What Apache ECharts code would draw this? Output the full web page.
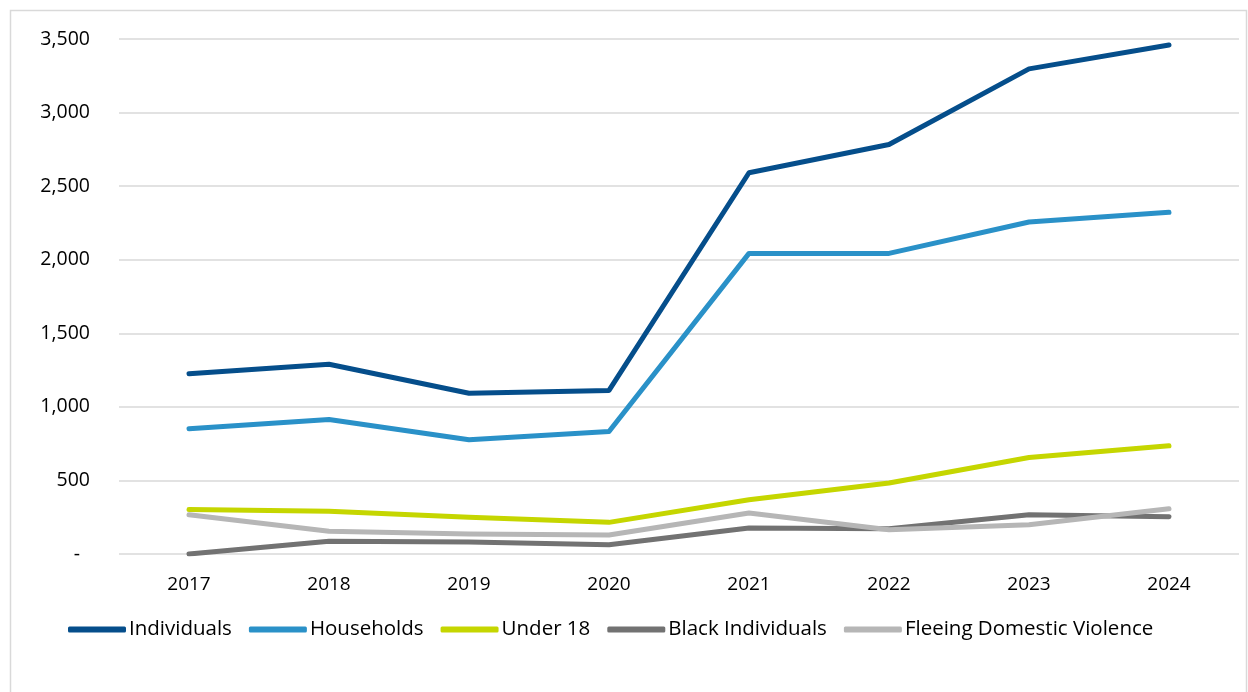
<!DOCTYPE html>
<html>
<head>
<meta charset="utf-8">
<script src="https://cdn.jsdelivr.net/npm/echarts@6/dist/echarts.min.js"></script>
<style>
  html, body { margin: 0; padding: 0; background: #fff; }
  #chart { width: 1248px; height: 692px; }
</style>
</head>
<body>
<div id="chart"></div>
<script>
// Years on the category axis
const years = ['2017', '2018', '2019', '2020', '2021', '2022', '2023', '2024'];

// Counts per year for each group
const individuals = [1225, 1290, 1092, 1112, 2591, 2783, 3297, 3459];
const households = [851, 914, 776, 833, 2043, 2043, 2256, 2322];
const under18 = [303, 290, 249, 215, 369, 482, 656, 735];
const blackIndividuals = [0, 86, 81, 63, 176, 172, 267, 253];
const fleeingDV = [267, 154, 136, 129, 278, 165, 199, 308];

// Value axis ticks
const yMin = 0;
const yMax = 3500;
const yStep = 500;

const FONT = '"Open Sans", "Liberation Sans", sans-serif';

const seriesDefs = [
  { name: 'Individuals', data: individuals, color: '#054e8b' },
  { name: 'Households', data: households, color: '#2a91c8' },
  { name: 'Under 18', data: under18, color: '#c5d600' },
  { name: 'Black Individuals', data: blackIndividuals, color: '#727272' },
  { name: 'Fleeing Domestic Violence', data: fleeingDV, color: '#b6b6b6' }
];

const chart = echarts.init(document.getElementById('chart'), null, { renderer: 'canvas' });

chart.setOption({
  animation: false,
  backgroundColor: '#ffffff',
  textStyle: { fontFamily: FONT },
  graphic: [{
    type: 'rect',
    shape: { x: 10.5, y: 10.5, width: 1236, height: 700 },
    style: { fill: 'none', stroke: '#d9d9d9', lineWidth: 1.5 },
    silent: true
  }],
  grid: { left: 119, right: 9, top: 39, bottom: 138, containLabel: false },
  legend: {
    left: 63,
    top: 614,
    itemWidth: 58,
    itemHeight: 6,
    itemGap: 17,
    icon: 'roundRect',
    textStyle: { fontFamily: FONT, fontSize: 20.5, color: '#000', padding: [0, 0, 0, -2] },
    data: seriesDefs.map(s => s.name)
  },
  xAxis: {
    type: 'category',
    data: years,
    boundaryGap: true,
    axisLine: { show: false },
    axisTick: { show: false },
    axisLabel: { color: '#000', fontSize: 19, fontFamily: FONT, margin: 21 }
  },
  yAxis: {
    type: 'value',
    min: yMin,
    max: yMax,
    interval: yStep,
    axisLine: { show: false },
    axisTick: { show: false },
    splitLine: { lineStyle: { color: '#d9d9d9', width: 1.5 } },
    axisLabel: {
      color: '#000',
      fontSize: 19.5,
      fontFamily: FONT,
      margin: 29,
      formatter: v => v === 0 ? '{d|-}' : v.toLocaleString('en-US'),
      rich: { d: { fontSize: 19.5, fontFamily: FONT, color: '#000', padding: [0, 10, 0, 0] } }
    }
  },
  series: seriesDefs.map(s => ({
    name: s.name,
    type: 'line',
    data: s.data,
    symbol: 'none',
    color: s.color,
    lineStyle: { width: 5, color: s.color, cap: 'round', join: 'round' }
  }))
});
</script>
</body>
</html>
